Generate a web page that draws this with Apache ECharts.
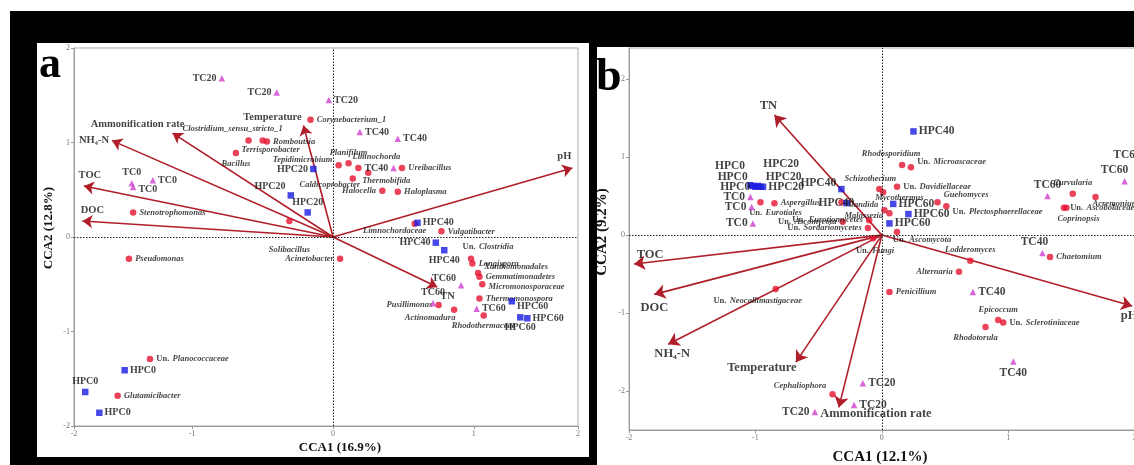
<!DOCTYPE html>
<html><head><meta charset="utf-8">
<script src="https://cdn.jsdelivr.net/npm/echarts@6/dist/echarts.min.js"></script>
<style>html,body{margin:0;padding:0;background:#fff}#c{width:1134px;height:465px}</style>
</head><body><div id="c"></div>
<script>
// ================= DATA : panel a (bacteria) =================
const aEnvNames = ['pH','TN','Temperature','Ammonification rate','NH₄-N','TOC','DOC'];
const aEnvX = [1.70, 0.74, -0.21, -1.14, -1.57, -1.77, -1.78];
const aEnvY = [0.73, -0.53, 1.18, 1.10, 1.02, 0.54, 0.17];

const aSampleNames = ['TC20','TC20','TC20','TC0','TC0','TC0','TC40','TC40','TC40','TC60','TC60','TC60',
  'HPC0','HPC0','HPC0','HPC20','HPC20','HPC20','HPC40','HPC40','HPC40','HPC60','HPC60','HPC60'];
const aSampleX = [-0.79,-0.40,-0.03,-1.43,-1.42,-1.28,0.19,0.46,0.43,0.91,0.71,1.02,
  -1.48,-1.76,-1.66,-0.14,-0.30,-0.18,0.60,0.73,0.79,1.27,1.33,1.38];
const aSampleY = [1.68,1.53,1.45,0.57,0.53,0.60,1.11,1.04,0.73,-0.51,-0.70,-0.76,
  -1.41,-1.64,-1.86,0.72,0.44,0.26,0.15,-0.06,-0.14,-0.68,-0.85,-0.86];

const aTaxaNames = ['Corynebacterium_1','Clostridium_sensu_stricto_1','Terrisporobacter','Romboutsia','Bacillus',
  'Tepidimicrobium','Planifilum','Limnochorda','Thermobifida','Caldicoprobacter','Halocella','Haloplasma',
  'Ureibacillus','Stenotrophomonas','Solibacillus','Limnochordaceae','Vulgatibacter','Acinetobacter',
  'Pseudomonas','Un. Clostridia','Longispora','Xanthomonadales','Gemmatimonadetes','Micromonosporaceae',
  'Thermomonospora','Rhodothermaceae','Actinomadura','Pusillimonas','Un. Planococcaceae','Glutamicibacter'];
const aTaxaX = [-0.16,-0.60,-0.50,-0.47,-0.69,0.04,0.11,0.18,0.25,0.14,0.35,0.46,0.49,-1.42,-0.31,0.58,0.77,0.05,
  -1.45,0.98,0.99,1.03,1.04,1.06,1.04,1.07,0.86,0.75,-1.30,-1.53];
const aTaxaY = [1.24,1.02,1.02,1.01,0.89,0.76,0.78,0.73,0.68,0.62,0.49,0.48,0.73,0.26,0.17,0.14,0.06,-0.23,
  -0.23,-0.23,-0.28,-0.38,-0.42,-0.50,-0.65,-0.83,-0.77,-0.72,-1.29,-1.68];

const aXTickValues = [-1.84,-1,0,1,1.74];
const aXTickLabels = ['-2','-1','0','1','2'];
const aYTickValues = [-2,-1,0,1,2];
const aYTickLabels = ['-2','-1','0','1','2'];

// ================= DATA : panel b (fungi) =================
const bEnvNames = ['TN','TOC','DOC','NH₄-N','Temperature','Ammonification rate','pH'];
const bEnvX = [-0.85,-1.96,-1.80,-1.69,-0.68,-0.34,1.98];
const bEnvY = [1.54,-0.37,-0.76,-1.40,-1.63,-2.21,-0.91];

const bSampleNames = ['HPC0','HPC0','HPC0','HPC20','HPC20','HPC20','HPC40','HPC40','HPC40','HPC60','HPC60','HPC60',
  'TC0','TC0','TC0','TC20','TC20','TC20','TC40','TC40','TC40','TC60','TC60','TC60'];
const bSampleX = [-1.04,-1.02,-1.00,-0.98,-0.96,-0.94,-0.32,-0.28,0.25,0.09,0.21,0.06,
  -1.04,-1.03,-1.02,-0.53,-0.22,-0.15,1.27,0.72,1.04,1.31,1.92,2.05];
const bSampleY = [0.64,0.63,0.62,0.63,0.62,0.62,0.59,0.41,1.33,0.40,0.27,0.15,
  0.49,0.36,0.15,-2.27,-2.18,-1.90,-0.23,-0.73,-1.62,0.50,0.69,0.88];

const bTaxaNames = ['Rhodosporidium','Un. Microascaceae','Schizothecium','Mycothermus','Un. Davidiellaceae',
  'Guehomyces','Un. Plectosphaerellaceae','Candida','Malassezia','Un. Ascomycota','Un. Eurotiomycetes',
  'Un. Sordariomycetes','Un. Ascomycota','','Un. Fungi','Un. Eurotiales','Aspergillus','Un. Neocallimastigaceae',
  'Cephaliophora','Penicillium','Alternaria','Lodderomyces','Rhodotorula','Epicoccum','Un. Sclerotiniaceae',
  'Chaetomium','Curvularia','Acremonium','Un. Ascobolaceae','Coprinopsis'];
const bTaxaX = [0.16,0.23,-0.02,0.01,0.12,0.44,0.51,0.02,0.06,0.12,-0.10,-0.11,-0.31,-0.32,-0.07,-0.96,-0.85,-0.84,
  -0.39,0.06,0.61,0.70,0.82,0.92,0.96,1.33,1.51,1.69,1.44,1.46];
const bTaxaY = [0.90,0.87,0.59,0.55,0.62,0.42,0.37,0.32,0.28,0.04,0.19,0.09,0.17,0.42,-0.04,0.42,0.41,-0.69,
  -2.04,-0.73,-0.47,-0.33,-1.18,-1.09,-1.12,-0.28,0.53,0.49,0.35,0.35];

const bXTickValues = [-2,-1,0,1,2];
const bXTickLabels = ['-2','-1','0','1','2'];
const bYTickValues = [-2,-1,0,1,2];
const bYTickLabels = ['-2','-1','0','1','2'];

// ================= LABEL PLACEMENT (layout only) =================
const aEnvLab = [['top',-8,-3],['right',0,9],['top',-31,0],['top',-35,0],['left',0,0],['top',6,-2],['top',10,-2]];
const aSampleLab = [['left',0,0],['left',0,0],['right',0,0],['top',0,0],['right',0,3],['right',0,0],
  ['right',0,0],['right',0,0],['left',0,0],['left',0,-7],['top',0,0],['right',0,0],
  ['right',0,0],['top',0,0],['right',0,0],['left',0,0],['left',0,-9],['top',0,0],
  ['right',0,0],['left',0,0],['bottom',0,0],['right',0,5],['bottom',0,0],['right',0,0]];
const aTaxaLab = [['right',0,0],['top',-16,-1],['bottom',8,-2],['right',0,0],['bottom',0,0],
  ['left',0,-5],['top',0,0],['top',18,0],['bottom',18,-3],['bottom',-23,-4],['left',0,0],['right',0,0],
  ['right',0,0],['right',0,0],['bottom',0,18],['bottom',-20,-4],['right',0,0],['left',0,0],
  ['right',0,0],['top',17,0],['right',0,0],['right',0,-6],['right',0,0],['right',0,3],
  ['right',0,0],['bottom',0,0],['bottom',-24,-3],['left',0,0],['right',0,0],['right',0,0]];

const bEnvLab = [['top',-6,0],['top',16,0],['bottom',0,4],['bottom',4,0],['bottom',-34,-4],['bottom',37,-3],['bottom',-3,0]];
const bSampleLab = [['left',0,-19],['left',0,-9],['left',0,0],['right',0,-22],['right',0,-10],['right',0,0],
  ['left',0,-6],['left',13,0],['right',0,0],['right',0,0],['right',0,0],['right',0,0],
  ['left',0,0],['left',0,0],['left',0,0],['left',0,0],['right',0,0],['right',0,0],
  ['top',-8,0],['right',0,0],['bottom',0,0],['top',0,0],['top',-10,0],['top',-14,0]];
const bTaxaLab = [['top',-11,0],['right',0,-5],['top',-9,0],['right',-14,6],['right',0,0],
  ['right',0,-8],['right',0,6],['left',0,-5],['left',0,3],['bottom',25,-4],['left',0,0],
  ['left',0,0],['left',0,0],['left',0,0],['bottom',2,0],['bottom',15,-2],['right',0,0],['bottom',-18,0],
  ['left',0,-8],['right',0,0],['left',0,0],['top',0,0],['bottom',-10,0],['top',0,0],['right',0,0],
  ['right',0,0],['top',0,0],['bottom',20,-4],['right',0,0],['bottom',12,0]];

// ================= BUILD =================
const SERIF = "'Liberation Serif','Times New Roman',serif";
const RED = '#e5142f', BLUE = '#1a1ae0', MAG = '#d040d0', ARROW = '#b01e2a';

function items(names, xs, ys, lab, filter) {
  const out = [];
  names.forEach((n, i) => {
    if (filter && !filter(n)) return;
    out.push({name: n, value: [xs[i], ys[i]],
      label: {position: lab[i][0], offset: [lab[i][1], lab[i][2]]}});
  });
  return out;
}
function taxonFmt(p) {
  const n = p.name;
  if (!n) return '';
  if (n.indexOf('Un. ') === 0) return '{u|Un.} {i|' + n.slice(4) + '}';
  return '{i|' + n + '}';
}
function panelSeries(k, env, envLab, samples, sampleLab, taxa, taxaLab, fs) {
  const s = [];
  s.push({type: 'line', xAxisIndex: k, yAxisIndex: k, data: [], silent: true,
    markLine: {silent: true, symbol: 'none', animation: false, label: {show: false},
      lineStyle: {type: [1.5, 1.5], color: '#222', width: 1},
      data: [{xAxis: 0}, {yAxis: 0}]}});
  s.push({type: 'lines', coordinateSystem: 'cartesian2d', xAxisIndex: k, yAxisIndex: k, z: 3,
    symbol: ['none', 'arrow'], symbolSize: fs.arrowHead, silent: true, animation: false,
    lineStyle: {color: ARROW, width: 1.6, opacity: 1, curveness: 0},
    data: env.names.map((n, i) => ({coords: [[0, 0], [env.x[i], env.y[i]]]}))});
  s.push({type: 'scatter', xAxisIndex: k, yAxisIndex: k, z: 4, symbol: 'circle', symbolSize: 6.5,
    itemStyle: {color: RED}, animation: false,
    label: {show: true, distance: 3, formatter: taxonFmt,
      rich: {u: {fontFamily: SERIF, fontWeight: 'bold', fontSize: fs.taxa, color: '#111'},
             i: {fontFamily: SERIF, fontWeight: 'bold', fontStyle: 'italic', fontSize: fs.taxa, color: '#111'}}},
    data: items(taxa.names, taxa.x, taxa.y, taxaLab)});
  const sl = {show: true, distance: 2, formatter: '{b}', fontFamily: SERIF, fontWeight: 'bold', fontSize: fs.sample, color: '#111'};
  s.push({type: 'scatter', xAxisIndex: k, yAxisIndex: k, z: 5, symbol: 'rect', symbolSize: 6.5,
    itemStyle: {color: BLUE}, label: sl, animation: false,
    data: items(samples.names, samples.x, samples.y, sampleLab, n => n.indexOf('HPC') === 0)});
  s.push({type: 'scatter', xAxisIndex: k, yAxisIndex: k, z: 5, symbol: 'triangle', symbolSize: 6.5,
    itemStyle: {color: MAG}, label: sl, animation: false,
    data: items(samples.names, samples.x, samples.y, sampleLab, n => n.indexOf('TC') === 0)});
  s.push({type: 'scatter', xAxisIndex: k, yAxisIndex: k, z: 6, symbolSize: 0, silent: true, animation: false,
    label: {show: true, distance: 3, formatter: '{b}', fontFamily: SERIF, fontWeight: 'bold', fontSize: fs.env, color: '#111'},
    data: items(env.names, env.x, env.y, envLab)});
  return s;
}
function axes(k, min, max, ticks, tickLabels) {
  return {gridIndex: k, type: 'value', min: min, max: max,
    axisLine: {show: true, onZero: false, lineStyle: {color: '#999', width: 1}},
    splitLine: {show: false},
    axisTick: {show: true, customValues: ticks, length: 3, lineStyle: {color: '#999'}},
    axisLabel: {show: true, customValues: ticks, fontSize: 8, color: '#777', fontFamily: SERIF, margin: 4,
      formatter: v => { const i = ticks.findIndex(t => Math.abs(t - v) < 1e-6); return i >= 0 ? tickLabels[i] : ''; }}};
}

const chart = echarts.init(document.getElementById('c'), null, {renderer: 'canvas'});
const series = [].concat(
  panelSeries(0, {names: aEnvNames, x: aEnvX, y: aEnvY}, aEnvLab,
    {names: aSampleNames, x: aSampleX, y: aSampleY}, aSampleLab,
    {names: aTaxaNames, x: aTaxaX, y: aTaxaY}, aTaxaLab, {taxa: 8.5, sample: 10, env: 10.5, arrowHead: 10}),
  panelSeries(1, {names: bEnvNames, x: bEnvX, y: bEnvY}, bEnvLab,
    {names: bSampleNames, x: bSampleX, y: bSampleY}, bSampleLab,
    {names: bTaxaNames, x: bTaxaX, y: bTaxaY}, bTaxaLab, {taxa: 8.5, sample: 11.5, env: 12.5, arrowHead: 11})
);

chart.setOption({
  backgroundColor: '#fff',
  animation: false,
  graphic: [
    {type: 'rect', z: -10, silent: true, shape: {x: 10, y: 11, width: 1124, height: 454}, style: {fill: '#000'}},
    {type: 'rect', z: -9, silent: true, shape: {x: 37, y: 43, width: 552, height: 414}, style: {fill: '#fff'}},
    {type: 'rect', z: -9, silent: true, shape: {x: 597, y: 47, width: 537, height: 418}, style: {fill: '#fff'}},
    {type: 'text', z: 10, left: 39, top: 44, style: {text: 'a', font: 'bold 44px ' + SERIF, fill: '#000'}},
    {type: 'text', z: 10, left: 596, top: 55, style: {text: 'b', font: 'bold 46px ' + SERIF, fill: '#000'}},
    {type: 'text', z: 10, x: 340, y: 448, style: {text: 'CCA1 (16.9%)', font: 'bold 13px ' + SERIF, fill: '#111', align: 'center', verticalAlign: 'middle'}},
    {type: 'text', z: 10, x: 49, y: 228, rotation: Math.PI / 2, style: {text: 'CCA2 (12.8%)', font: 'bold 13px ' + SERIF, fill: '#111', align: 'center', verticalAlign: 'middle'}},
    {type: 'text', z: 10, x: 880, y: 457, style: {text: 'CCA1 (12.1%)', font: 'bold 15px ' + SERIF, fill: '#111', align: 'center', verticalAlign: 'middle'}},
    {type: 'text', z: 10, x: 602, y: 232, rotation: Math.PI / 2, style: {text: 'CCA2 (9.2%)', font: 'bold 15px ' + SERIF, fill: '#111', align: 'center', verticalAlign: 'middle'}}
  ],
  grid: [
    {left: 74, top: 48, width: 504, height: 378, show: true, borderColor: '#aaa', borderWidth: 1,
     backgroundColor: 'transparent', containLabel: false, outerBoundsMode: 'none'},
    {left: 629, top: 48, width: 531, height: 382, show: true, borderColor: '#aaa', borderWidth: 1,
     backgroundColor: 'transparent', containLabel: false, outerBoundsMode: 'none'}
  ],
  xAxis: [axes(0, -1.84, 1.74, aXTickValues, aXTickLabels), axes(1, -2, 2.2, bXTickValues, bXTickLabels)],
  yAxis: [axes(0, -2, 2, aYTickValues, aYTickLabels), axes(1, -2.5, 2.4, bYTickValues, bYTickLabels)],
  series: series
});
</script></body></html>
